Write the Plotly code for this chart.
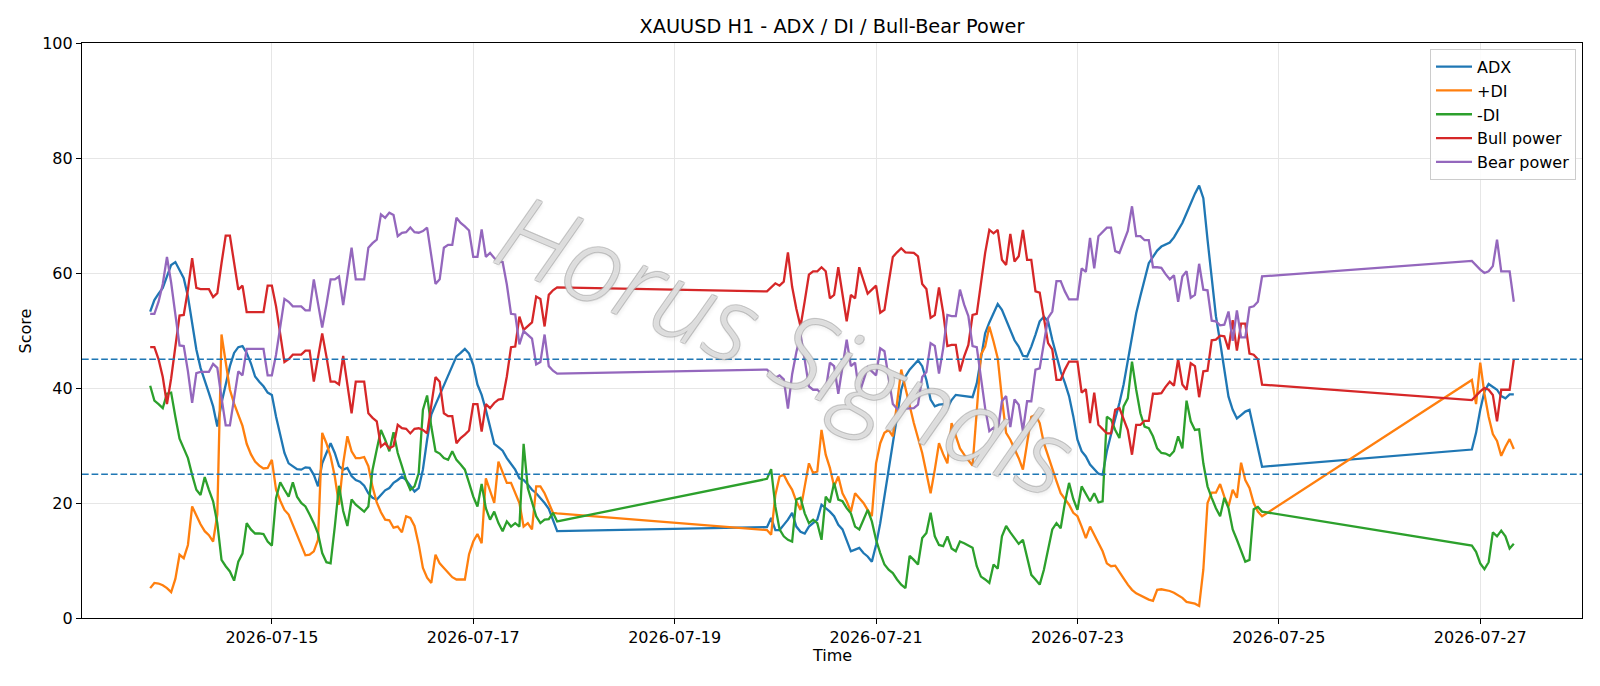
import pandas as pd
import plotly.graph_objects as go

# ---- time index: hourly bars, three trading segments (weekend gaps) ----
segments = [("2026-07-13 19:00", "2026-07-17 20:00"),
            ("2026-07-19 22:00", "2026-07-24 20:00"),
            ("2026-07-26 22:00", "2026-07-27 08:00")]
times = []
for s, e in segments:
    times.extend(pd.date_range(s, e, freq="h"))

adx = [
    53.3, 55.3, 56.4, 57.4, 59.4, 61.4, 61.9, 60.6, 59.1, 55.9,
    51.3, 46.7, 43.5, 41.4, 39.1, 36.8, 33.3, 37.4, 40.9, 43.8,
    46.1, 47.1, 47.3, 46.1, 44.3, 42.0, 41.1, 40.3, 39.2, 38.8,
    35.0, 31.6, 28.7, 26.9, 26.4, 25.9, 25.8, 26.2, 26.1, 24.9,
    22.9, 26.9, 28.7, 30.4, 28.7, 26.4, 25.8, 26.1,
    24.7, 24.0, 23.7, 23.0, 21.7, 20.9, 20.6, 21.4, 22.2, 22.6,
    23.5, 24.0, 24.6, 24.0, 23.0, 22.0, 22.6, 25.8, 31.0, 35.4,
    37.1, 38.8, 40.6, 42.0, 43.8, 45.5, 46.1, 46.8, 46.0, 44.0,
    40.6, 38.8, 36.2, 33.3, 30.3, 29.7, 29.1, 27.8, 26.9, 25.8,
    24.3, 24.0, 23.2, 22.3, 21.7, 20.9, 20.0, 19.0,
    17.2, 15.1,
    15.8, 17.4, 15.3, 15.3, 16.2, 17.1, 18.3, 15.9, 15.0, 14.7,
    15.9, 16.5, 17.1, 19.7, 19.1, 18.5, 17.7, 16.2, 15.4, 13.6,
    11.6, 11.9, 12.2, 11.3, 10.7, 9.8, 12.7, 16.5, 21.1, 25.8,
    30.4, 35.6, 39.7, 42.0, 43.2, 44.0, 44.8, 43.8, 41.4, 38.0,
    36.8, 37.1, 37.2, 36.5,
    37.9, 38.8, 38.7, 38.6, 38.5, 38.4, 40.8, 45.5, 49.5, 51.4,
    53.0, 54.6, 53.6, 51.8, 49.8, 48.3, 47.2, 45.6, 45.5, 47.2,
    49.3, 51.6, 52.4, 51.6, 48.4, 45.5, 42.9, 40.9, 38.6, 35.1,
    31.0, 29.0, 28.1, 26.7, 25.8, 25.1, 24.9, 29.0, 31.9, 34.5,
    37.4, 40.6, 44.9, 49.3, 53.0, 56.0, 59.0, 61.7,
    62.8, 63.9, 64.6, 65.0, 65.3, 66.2, 67.5, 68.7, 70.4, 72.2,
    73.8, 75.2, 73.0, 65.8, 58.8, 52.5, 48.0, 43.5, 38.5, 36.2,
    34.7, 35.3, 35.9, 36.2, 33.0, 29.7, 26.3,
    29.3, 32.2, 36.2, 39.4, 40.7, 40.2, 39.7, 38.6, 38.2, 38.9, 38.9,
]

plus_di = [
    5.2, 6.1, 6.0, 5.7, 5.2, 4.5, 6.8, 11.0, 10.4, 12.7,
    19.4, 17.7, 16.3, 15.1, 14.4, 13.3, 18.0, 49.3, 44.3, 39.7,
    37.3, 35.4, 33.4, 30.3, 28.5, 27.2, 26.5, 26.0, 26.1, 27.5,
    22.3, 20.4, 18.8, 18.0, 16.3, 14.5, 12.7, 10.9, 11.0, 11.6,
    13.6, 32.2, 30.4, 28.1, 24.6, 19.7, 26.9, 31.6,
    29.0, 27.8, 27.8, 28.0, 26.4, 22.8, 20.1, 18.4, 17.1, 17.0,
    15.7, 15.9, 14.9, 17.7, 17.4, 16.0, 12.8, 8.7, 7.0, 6.1,
    11.0, 9.5, 8.7, 7.8, 7.1, 6.7, 6.7, 6.7, 11.1, 13.3,
    14.6, 13.0, 24.3, 22.3, 20.0, 27.2, 25.5, 23.5, 23.5, 21.7,
    20.0, 15.9, 16.5, 15.4, 22.9, 22.9, 21.7, 20.0,
    18.3, 18.2,
    15.3, 14.5, 21.4, 24.6, 24.9, 23.5, 22.3, 20.3, 18.8, 22.9,
    26.9, 25.2, 25.5, 32.7, 28.4, 26.1, 22.9, 24.6, 21.7, 20.3,
    18.5, 21.7, 20.9, 20.0, 18.8, 17.7, 26.9, 30.4, 32.2, 32.7,
    31.6, 37.4, 43.2, 40.0, 36.8, 33.9, 31.3, 28.7, 25.2, 21.7,
    25.8, 30.4, 28.5, 26.9,
    33.9, 31.6, 29.5, 28.4, 27.5, 26.5, 36.0, 45.8, 47.2, 50.7,
    48.1, 45.2, 38.2, 32.2, 31.0, 29.5, 27.8, 25.8, 30.4, 35.0,
    35.3, 33.9, 30.4, 28.1, 25.8, 23.8, 21.7, 20.6, 19.7, 18.3,
    17.7, 15.9, 13.9, 15.9, 14.5, 13.0, 11.6, 9.5, 9.0, 9.1,
    8.1, 6.9, 5.8, 4.9, 4.3, 3.9, 3.6, 3.2,
    3.0, 4.9, 5.0, 4.9, 4.7, 4.4, 4.0, 3.5, 2.8, 2.6,
    2.5, 2.1, 8.4, 20.0, 21.8, 21.8, 23.3, 21.1, 19.4, 22.3,
    20.9, 27.0, 24.0, 22.6, 20.0, 18.5, 17.7,
    41.4, 37.2, 44.4, 39.0, 35.0, 32.0, 30.8, 28.2, 29.8, 31.1, 29.4,
]

minus_di = [
    40.4, 37.8, 37.2, 36.5, 39.0, 39.2, 35.0, 31.2, 29.5, 27.8,
    24.9, 22.3, 21.4, 24.5, 22.3, 20.3, 16.5, 10.1, 9.0, 8.1,
    6.5, 9.8, 11.2, 16.5, 15.4, 14.7, 14.7, 14.6, 13.3, 12.6,
    20.9, 23.6, 22.3, 21.1, 23.6, 21.1, 20.0, 19.4, 18.0, 16.5,
    14.7, 11.3, 9.7, 9.5, 15.9, 23.0, 18.6, 16.0,
    20.6, 19.7, 19.1, 18.5, 19.4, 25.8, 29.3, 32.7, 31.0, 29.0,
    32.3, 28.7, 26.4, 24.0, 22.3, 22.9, 25.2, 36.2, 38.7, 33.3,
    29.0, 28.6, 27.8, 27.5, 29.0, 27.5, 26.7, 25.8, 23.5, 21.1,
    19.4, 23.3, 19.1, 17.1, 18.5, 16.5, 15.1, 16.8, 15.9, 16.5,
    15.9, 30.3, 22.6, 20.0, 17.7, 16.5, 17.1, 17.2,
    18.3, 16.8,
    24.2, 25.9, 19.4, 15.4, 14.2, 13.6, 13.3, 20.6, 20.9, 18.2,
    16.5, 17.1, 16.5, 13.6, 21.1, 20.1, 23.5, 20.6, 20.3, 19.1,
    18.2, 15.9, 15.4, 17.1, 18.8, 16.8, 13.6, 11.3, 9.3, 8.4,
    7.8, 6.7, 5.8, 5.2, 10.8, 10.1, 9.3, 13.9, 14.8, 18.3,
    14.2, 12.7, 12.5, 14.2,
    12.1, 11.6, 13.3, 13.0, 12.6, 12.2, 9.0, 7.2, 6.7, 6.1,
    9.3, 8.6, 14.2, 16.0, 14.9, 13.9, 12.9, 13.6, 10.7, 7.5,
    6.7, 5.8, 8.4, 11.9, 15.4, 16.5, 15.6, 20.0, 23.5, 20.7,
    18.8, 22.9, 21.7, 20.3, 21.7, 20.1, 20.3, 35.0, 34.5, 32.7,
    31.3, 36.8, 38.2, 44.6, 39.7, 35.6, 33.3, 33.0,
    31.6, 29.5, 28.7, 28.6, 28.2, 29.0, 31.6, 29.5, 37.8, 34.2,
    32.7, 32.8, 26.9, 22.9, 20.9, 19.1, 17.7, 20.9, 19.1, 15.4,
    13.6, 11.6, 9.8, 10.1, 18.9, 19.3, 18.5,
    12.6, 11.5, 9.5, 8.5, 9.7, 14.9, 14.2, 15.2, 14.2, 12.1, 12.9,
]

bull_power = [
    47.1, 47.1, 45.0, 41.9, 37.2, 41.7, 47.2, 52.6, 52.7, 57.1,
    62.6, 57.4, 57.2, 57.2, 57.2, 55.8, 56.5, 61.7, 66.5, 66.5,
    62.0, 57.1, 57.8, 53.2, 53.2, 53.2, 53.2, 53.2, 57.8, 57.8,
    54.2, 49.6, 44.5, 45.0, 45.8, 45.8, 45.8, 46.5, 46.5, 41.1,
    45.5, 49.5, 45.5, 41.1, 41.1, 40.6, 45.6, 40.9,
    35.6, 41.1, 41.1, 41.1, 35.6, 34.8, 34.2, 29.8, 30.4, 29.5,
    29.9, 33.6, 33.0, 32.9, 32.1, 32.9, 33.0, 32.7, 32.1, 37.4,
    41.9, 41.1, 35.6, 35.1, 35.1, 30.4, 31.3, 31.9, 32.6, 37.2,
    37.2, 32.4, 37.2, 36.5, 37.4, 38.0, 38.1, 42.0, 47.1, 47.2,
    52.4, 50.1, 50.8, 51.4, 55.9, 55.5, 50.7, 56.2,
    57.0, 57.5,
    56.8, 57.5, 58.2, 57.8, 58.5, 63.6, 57.6, 53.8, 50.7, 55.1,
    59.7, 60.3, 60.3, 61.0, 60.3, 55.6, 56.2, 61.0, 56.5, 51.6,
    56.2, 55.6, 61.0, 58.5, 56.4, 57.1, 57.8, 53.1, 53.6, 58.3,
    62.8, 63.6, 64.3, 63.6, 63.6, 63.5, 62.9, 58.1, 57.2, 52.2,
    52.7, 57.5, 53.1, 47.3,
    47.5, 47.5, 42.9, 45.5, 47.5, 52.7, 52.9, 58.2, 63.5, 67.5,
    66.9, 67.5, 62.3, 61.4, 66.8, 62.0, 62.9, 67.5, 62.3, 62.3,
    56.8, 56.6, 51.9, 47.8, 46.7, 41.4, 41.4, 43.2, 44.6, 44.6,
    44.6, 39.2, 39.8, 33.9, 39.2, 33.6, 32.9, 32.1, 32.1, 36.2,
    36.5, 34.6, 32.7, 28.4, 33.6, 33.6, 34.3, 34.3,
    39.0, 39.0, 39.1, 40.2, 41.1, 40.4, 45.0, 40.6, 39.7, 44.3,
    43.8, 38.4, 42.9, 43.0, 48.3, 48.4, 49.1, 49.0, 46.7, 51.8,
    46.5, 51.2, 51.2, 46.0, 45.8, 45.0, 40.6,
    37.9, 38.7, 39.4, 40.0, 39.7, 38.8, 34.2, 39.7, 39.7, 39.7, 45.0,
]

bear_power = [
    52.9, 52.9, 55.0, 58.1, 62.8, 58.3, 52.8, 47.4, 47.3, 42.9,
    37.4, 42.6, 42.8, 42.8, 42.8, 44.2, 43.5, 38.3, 33.5, 33.5,
    38.0, 42.9, 42.2, 46.8, 46.8, 46.8, 46.8, 46.8, 42.2, 42.2,
    45.8, 50.4, 55.5, 55.0, 54.2, 54.2, 54.2, 53.5, 53.5, 58.9,
    54.5, 50.5, 54.5, 58.9, 58.9, 59.4, 54.4, 59.1,
    64.4, 58.9, 58.9, 58.9, 64.4, 65.2, 65.8, 70.2, 69.6, 70.5,
    70.1, 66.4, 67.0, 67.1, 67.9, 67.1, 67.0, 67.3, 67.9, 62.6,
    58.1, 58.9, 64.4, 64.9, 64.9, 69.6, 68.7, 68.1, 67.4, 62.8,
    62.8, 67.6, 62.8, 63.5, 62.6, 62.0, 61.9, 58.0, 52.9, 52.8,
    47.6, 49.9, 49.2, 48.6, 44.1, 44.5, 49.3, 43.8,
    43.0, 42.5,
    43.2, 42.5, 41.8, 42.2, 41.5, 36.4, 42.4, 46.2, 49.3, 44.9,
    40.3, 39.7, 39.7, 39.0, 39.7, 44.4, 43.8, 39.0, 43.5, 48.4,
    43.8, 44.4, 39.0, 41.5, 43.6, 42.9, 42.2, 46.9, 46.4, 41.7,
    37.2, 36.4, 35.7, 36.4, 36.4, 36.5, 37.1, 41.9, 42.8, 47.8,
    47.3, 42.5, 46.9, 52.7,
    52.5, 52.5, 57.1, 54.5, 52.5, 47.3, 47.1, 41.8, 36.5, 32.5,
    33.1, 32.5, 37.7, 38.6, 33.2, 38.0, 37.1, 32.5, 37.7, 37.7,
    43.2, 43.4, 48.1, 52.2, 53.3, 58.6, 58.6, 56.8, 55.4, 55.4,
    55.4, 60.8, 60.2, 66.1, 60.8, 66.4, 67.1, 67.9, 67.9, 63.8,
    63.5, 65.4, 67.3, 71.6, 66.4, 66.4, 65.7, 65.7,
    61.0, 61.0, 60.9, 59.8, 58.9, 59.6, 55.0, 59.4, 60.3, 55.7,
    56.2, 61.6, 57.1, 57.0, 51.7, 51.6, 50.9, 51.0, 53.3, 48.2,
    53.5, 48.8, 48.8, 54.0, 54.2, 55.0, 59.4,
    62.1, 61.3, 60.6, 60.0, 60.3, 61.2, 65.8, 60.3, 60.3, 60.3, 55.0,
]

series_names = ["ADX", "+DI", "-DI", "Bull power", "Bear power"]
series_colors = ["#1f77b4", "#ff7f0e", "#2ca02c", "#d62728", "#9467bd"]
series_values = [adx, plus_di, minus_di, bull_power, bear_power]
threshold_levels = [45, 25]

x_tick_vals = ["2026-07-15", "2026-07-17", "2026-07-19", "2026-07-21",
               "2026-07-23", "2026-07-25", "2026-07-27"]
y_tick_vals = [0, 20, 40, 60, 80, 100]

for v in series_values:
    assert len(v) == len(times), (len(v), len(times))

FONT = "DejaVu Sans"
FS = 16
fig = go.Figure()
for name, color, vals in zip(series_names, series_colors, series_values):
    fig.add_trace(go.Scatter(x=times, y=vals, mode="lines", name=name,
                             line=dict(color=color, width=2.3)))

for lvl in threshold_levels:
    fig.add_hline(y=lvl, line=dict(color="#1f77b4", width=1.6, dash="6.7px,2.9px"))

outline = "rgba(170,170,170,0.6)"
wm_shadow = ", ".join([
    f"1px 0 0 {outline}", f"-1px 0 0 {outline}", f"0 1px 0 {outline}", f"0 -1px 0 {outline}",
    f"1px 1px 0 {outline}", f"-1px -1px 0 {outline}", f"1px -1px 0 {outline}", f"-1px 1px 0 {outline}",
    "3px 3px 3px rgba(120,120,120,0.15)",
])

fig.update_layout(
    width=1600, height=686,
    margin=dict(l=82, r=18, t=43, b=68),
    paper_bgcolor="white", plot_bgcolor="white",
    font=dict(family=FONT, size=FS, color="black"),
    title=dict(text="XAUUSD H1 - ADX / DI / Bull-Bear Power", x=0.5, xref="paper",
               xanchor="center", y=1 - 26.5 / 686, yref="container", yanchor="middle",
               font=dict(family=FONT, size=19.3, color="black")),
    showlegend=True,
    legend=dict(x=0.996, y=0.99, xanchor="right", yanchor="top",
                bgcolor="rgba(255,255,255,0.85)", bordercolor="#cccccc", borderwidth=1,
                font=dict(family=FONT, size=FS), itemwidth=36,
                tracegroupgap=0),
    annotations=[
        dict(text="Time", x=0.5, y=-0.0655, xref="paper", yref="paper",
             xanchor="center", yanchor="middle", showarrow=False,
             font=dict(family=FONT, size=FS)),
        dict(text="Score", x=-0.0374, y=0.5, xref="paper", yref="paper",
             xanchor="center", yanchor="middle", showarrow=False, textangle=-90,
             font=dict(family=FONT, size=FS)),
        dict(text="Horus Signals", x=0.470, y=0.480, xref="paper", yref="paper",
             xanchor="center", yanchor="middle", showarrow=False, textangle=23,
             font=dict(family="Open Sans", size=104, style="italic", weight=300,
                       color="rgba(255,255,255,0.6)", shadow=wm_shadow)),
    ],
)

fig.update_xaxes(type="date", range=["2026-07-13 02:45", "2026-07-28 00:15"],
                 tickmode="array", tickvals=x_tick_vals, ticktext=x_tick_vals,
                 showgrid=True, gridcolor="#e6e6e6", gridwidth=1,
                 showline=True, linecolor="black", linewidth=1.2, mirror=True,
                 ticks="outside", ticklen=5, tickcolor="black", zeroline=False,
                 tickfont=dict(family=FONT, size=FS))
fig.update_yaxes(range=[0, 100], tickmode="array", tickvals=y_tick_vals,
                 showgrid=True, gridcolor="#e6e6e6", gridwidth=1,
                 showline=True, linecolor="black", linewidth=1.2, mirror=True,
                 ticks="outside", ticklen=5, tickcolor="black", zeroline=False,
                 tickfont=dict(family=FONT, size=FS))

fig.write_html("out.html")
